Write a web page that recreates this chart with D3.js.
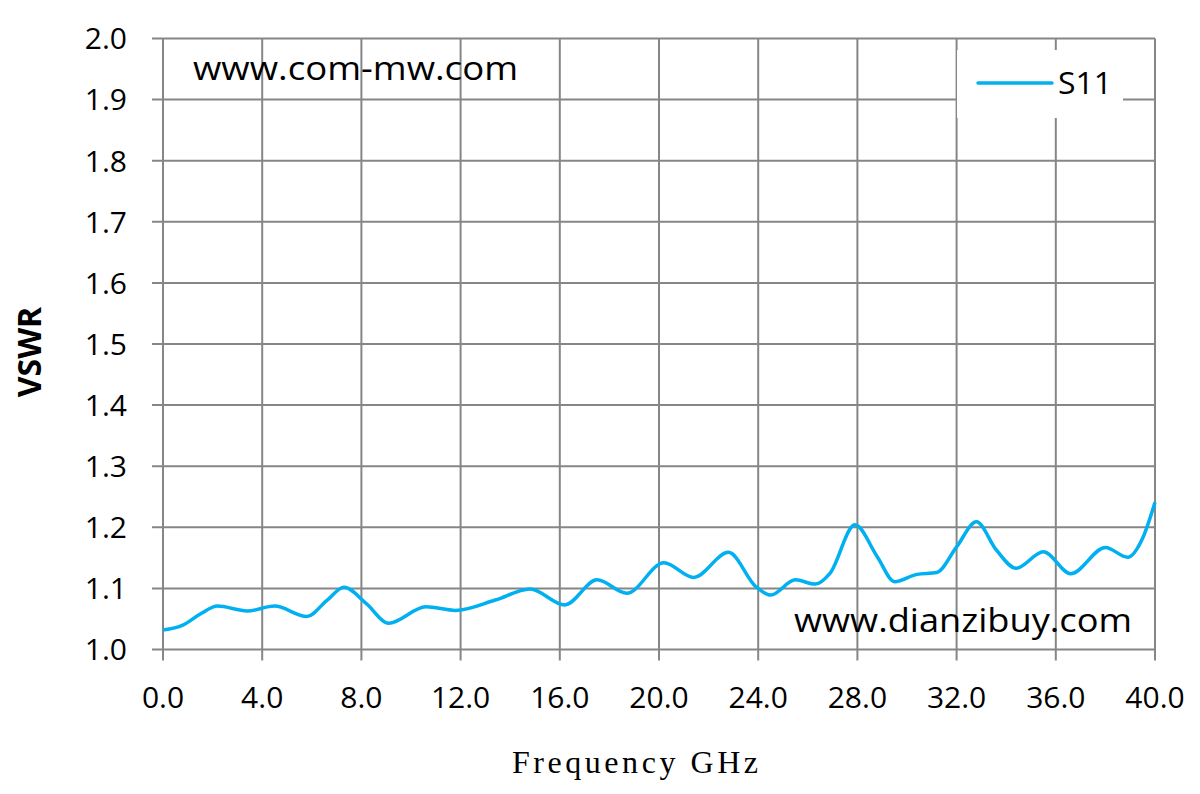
<!DOCTYPE html>
<html><head><meta charset="utf-8">
<script src="https://cdn.jsdelivr.net/npm/d3@7"></script>
<style>body{margin:0;background:#fff}</style>
</head><body>
<svg id="c" width="1200" height="794"></svg>
<script>
const freqs = [0,0.8,1.5,2.2,3.4,4.5,5.8,6.6,7.3,8.2,9.1,10.6,11.8,13.4,14.8,16.2,17.5,18.7,20.2,21.4,22.8,23.9,24.5,25.5,26.3,26.9,27.9,28.8,29.5,30.4,31.2,32.0,32.8,33.6,34.4,35.5,36.6,38.0,38.9,39.5,40.0];
const s11 = [1.032,1.040,1.058,1.071,1.063,1.071,1.054,1.080,1.102,1.075,1.043,1.070,1.064,1.081,1.099,1.073,1.114,1.092,1.142,1.118,1.159,1.103,1.089,1.114,1.107,1.125,1.204,1.152,1.111,1.123,1.126,1.168,1.209,1.163,1.133,1.160,1.124,1.167,1.151,1.182,1.241];
const xTicks = [0,4,8,12,16,20,24,28,32,36,40];
const yTicks = [1.0,1.1,1.2,1.3,1.4,1.5,1.6,1.7,1.8,1.9,2.0];
const seriesName = "S11";

const svg = d3.select("#c");
const L=163, R=1155, T=38.5, B=649.5;
const x = d3.scaleLinear().domain([0,40]).range([L,R]);
const y = d3.scaleLinear().domain([1.0,2.0]).range([B,T]);
const grid = "#868686";
const font = "'Open Sans', sans-serif";

// gridlines
svg.append("g").selectAll("line").data(xTicks).join("line")
  .attr("x1",d=>x(d)).attr("x2",d=>x(d)).attr("y1",T).attr("y2",B+11)
  .attr("stroke",grid).attr("stroke-width",2);
svg.append("g").selectAll("line").data(yTicks).join("line")
  .attr("x1",L-11).attr("x2",R).attr("y1",d=>y(d)).attr("y2",d=>y(d))
  .attr("stroke",grid).attr("stroke-width",2);

// tick labels
svg.append("g").selectAll("text").data(yTicks).join("text")
  .attr("x",127).attr("y",d=>y(d)).attr("dy","0.36em").attr("text-anchor","end")
  .attr("font-family",font).attr("font-size",30).attr("fill","#000")
  .text(d=>d.toFixed(1));
svg.append("g").selectAll("text").data(xTicks).join("text")
  .attr("x",d=>x(d)).attr("y",708).attr("text-anchor","middle")
  .attr("font-family",font).attr("font-size",30).attr("fill","#000")
  .text(d=>d.toFixed(1));

// legend box
svg.append("rect").attr("x",957).attr("y",50).attr("width",166).attr("height",68).attr("fill","#fff");
svg.append("line").attr("x1",978).attr("x2",1052).attr("y1",83).attr("y2",83)
  .attr("stroke","#00b0f0").attr("stroke-width",3.5).attr("stroke-linecap","round");
svg.append("text").attr("x",1058).attr("y",94).attr("font-family",font).attr("font-size",31)
  .attr("textLength",54).attr("lengthAdjust","spacingAndGlyphs").text(seriesName);

// curve
const pts = freqs.map((f,i)=>[f,s11[i]]);
svg.append("path").datum(pts)
  .attr("d", d3.line().x(d=>x(d[0])).y(d=>y(d[1])).curve(d3.curveMonotoneX))
  .attr("fill","none").attr("stroke","#00b0f0").attr("stroke-width",3.5);

// watermark texts
svg.append("text").attr("x",193).attr("y",80).attr("font-family",font).attr("font-size",33)
  .attr("textLength",325).attr("lengthAdjust","spacingAndGlyphs").text("www.com-mw.com");
svg.append("text").attr("x",794).attr("y",632).attr("font-family",font).attr("font-size",33)
  .attr("textLength",338).attr("lengthAdjust","spacingAndGlyphs").text("www.dianzibuy.com");

// axis titles
svg.append("text").attr("transform","translate(41,352) rotate(-90)").attr("text-anchor","middle")
  .attr("font-family",font).attr("font-weight","bold").attr("font-size",32).text("VSWR");
svg.append("text").attr("x",512).attr("y",773).attr("font-family","'Liberation Serif', serif")
  .attr("font-size",32).attr("textLength",246).attr("lengthAdjust","spacing").text("Frequency GHz");
</script>
</body></html>
